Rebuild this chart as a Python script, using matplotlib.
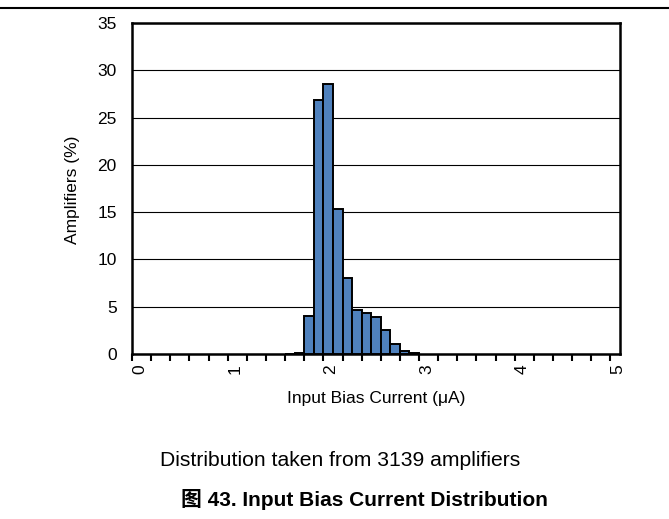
import matplotlib
matplotlib.use("Agg")
import matplotlib.pyplot as plt
import numpy as np

# Data: 0.1 uA bins (left edges) and percentage of amplifiers
bin_left = [1.6, 1.7, 1.8, 1.9, 2.0, 2.1, 2.2, 2.3, 2.4, 2.5, 2.6, 2.7, 2.8, 2.9]
percent = [0.05, 0.1, 4.0, 26.9, 28.5, 15.3, 8.0, 4.6, 4.3, 3.9, 2.5, 1.1, 0.3, 0.1]
bin_width = 0.1
xtick_labels = ["0", "1", "2", "3", "4", "5"]
ytick_values = [0, 5, 10, 15, 20, 25, 30, 35]

plt.rcParams['font.family'] = ['Liberation Sans', 'Noto Sans CJK SC', 'DejaVu Sans']

W, H = 669, 519
fig = plt.figure(figsize=(W / 100, H / 100), dpi=100)
ax = fig.add_axes([132 / W, 1 - 354 / H, (620 - 132) / W, (354 - 23) / H])

ax.bar(bin_left, percent, width=bin_width, align='edge', color='#4F81BD',
       edgecolor='black', linewidth=1.4, zorder=3)

ax.set_xlim(0, 5.1)
ax.set_ylim(0, 35)

# gridlines
ax.set_yticks(ytick_values)
ax.yaxis.grid(True, color='black', linewidth=0.8, zorder=0)
ax.tick_params(axis='y', length=0, pad=11, labelsize=12.5)

# x ticks every 0.2, labels every 1 centred in slot
ax.set_xticks(np.arange(0, 5.01, 0.2))
ax.set_xticklabels([])
ax.tick_params(axis='x', which='major', direction='out', length=5, width=1.5)
for i, lab in enumerate(xtick_labels):
    ax.text(i + 0.08, -1.1, lab, rotation=90, ha='center', va='top', fontsize=12.5,
            transform=ax.transData)

for s in ax.spines.values():
    s.set_linewidth(1.8)
    s.set_color('black')

fig.text(72 / W, 1 - 190 / H, 'Amplifiers (%)', rotation=90, ha='center', va='center', fontsize=12.5)
fig.text(376 / W, 1 - 398 / H, 'Input Bias Current (μA)', ha='center', va='center', fontsize=12.5)

fig.text(340 / W, 1 - 461 / H, 'Distribution taken from 3139 amplifiers', ha='center', va='center',
         fontsize=15.2)
fig.text(364 / W, 1 - 500 / H, '图 43. Input Bias Current Distribution', ha='center', va='center',
         fontsize=15, fontweight='bold')

# top rule
fig.add_artist(plt.Line2D([0, 1], [1 - 8 / H, 1 - 8 / H], transform=fig.transFigure,
                          color='black', linewidth=1.5))

fig.savefig('out.png', dpi=100)
